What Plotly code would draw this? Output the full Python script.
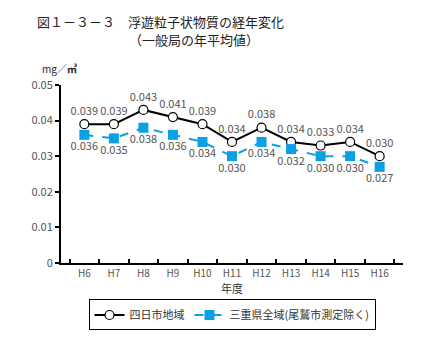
import plotly.graph_objects as go

years = ["H6", "H7", "H8", "H9", "H10", "H11", "H12", "H13", "H14", "H15", "H16"]
yokkaichi = [0.039, 0.039, 0.043, 0.041, 0.039, 0.034, 0.038, 0.034, 0.033, 0.034, 0.030]
mie = [0.036, 0.035, 0.038, 0.036, 0.034, 0.030, 0.034, 0.032, 0.030, 0.030, 0.027]
yticks = [0, 0.01, 0.02, 0.03, 0.04, 0.05]
ytick_text = ["0", "0.01", "0.02", "0.03", "0.04", "0.05"]

FONT = "Noto Sans CJK JP"
GREY = "#555555"
BLUE = "#0ba0e4"

fig = go.Figure()
fig.add_trace(go.Scatter(
    x=years, y=yokkaichi, name="四日市地域", mode="lines+markers+text",
    line=dict(color="black", width=2),
    marker=dict(symbol="circle", size=9, color="white", line=dict(color="black", width=1.2)),
    text=[f"{v:.3f}" for v in yokkaichi], textposition="top center",
    textfont=dict(family=FONT, size=11, color=GREY),
))
fig.add_trace(go.Scatter(
    x=years, y=mie, name="三重県全域(尾鷲市測定除く)", mode="lines+markers+text",
    line=dict(color=BLUE, width=2, dash="dash"),
    marker=dict(symbol="square", size=10, color=BLUE),
    text=[f"{v:.3f}" for v in mie], textposition="bottom center",
    textfont=dict(family=FONT, size=11, color=GREY),
))

fig.update_layout(
    width=437, height=353,
    margin=dict(l=61, r=34, t=85, b=90),
    paper_bgcolor="white", plot_bgcolor="white",
    font=dict(family=FONT, size=11, color=GREY),
    showlegend=True,
    legend=dict(orientation="h", x=0.5, xanchor="center", y=-0.205, yanchor="top",
                bordercolor="black", borderwidth=1, font=dict(family=FONT, size=11, color="#333333"),
                itemwidth=30, tracegroupgap=0),
    xaxis=dict(type="category", showline=True, linecolor="black", linewidth=2,
               ticks="inside", tickson="boundaries", ticklen=4, tickcolor="black", tickwidth=1.5,
               showgrid=False, tickangle=0, tickfont=dict(family=FONT, size=10, color=GREY),
               title=dict(text="年度", font=dict(family=FONT, size=11, color="#333333"), standoff=2)),
    yaxis=dict(range=[0, 0.05], tickvals=yticks, ticktext=ytick_text, showline=True,
               linecolor="black", linewidth=2, ticks="outside", ticklen=4, tickcolor="black",
               tickwidth=1.5, showgrid=False, zeroline=False,
               tickfont=dict(family=FONT, size=11, color=GREY)),
)

W, H = 437, 353
pw, ph = W - 61 - 34, H - 85 - 90
header = [
    ("図１－３－３　浮遊粒子状物質の経年変化", 35, 22, 13),
    ("（一般局の年平均値）", 127, 40, 13),
    ("mg／<b>㎥</b>", 40, 68, 10),
]
anns = []
for text, px, py, size in header:
    anns.append(dict(text=text, x=(px - 61) / pw, y=(H - 90 - py) / ph, xref="paper", yref="paper",
                     xanchor="left", yanchor="middle", showarrow=False,
                     font=dict(family=FONT, size=size, color="#222222")))
fig.update_layout(annotations=anns)

fig.write_html("out.html")
